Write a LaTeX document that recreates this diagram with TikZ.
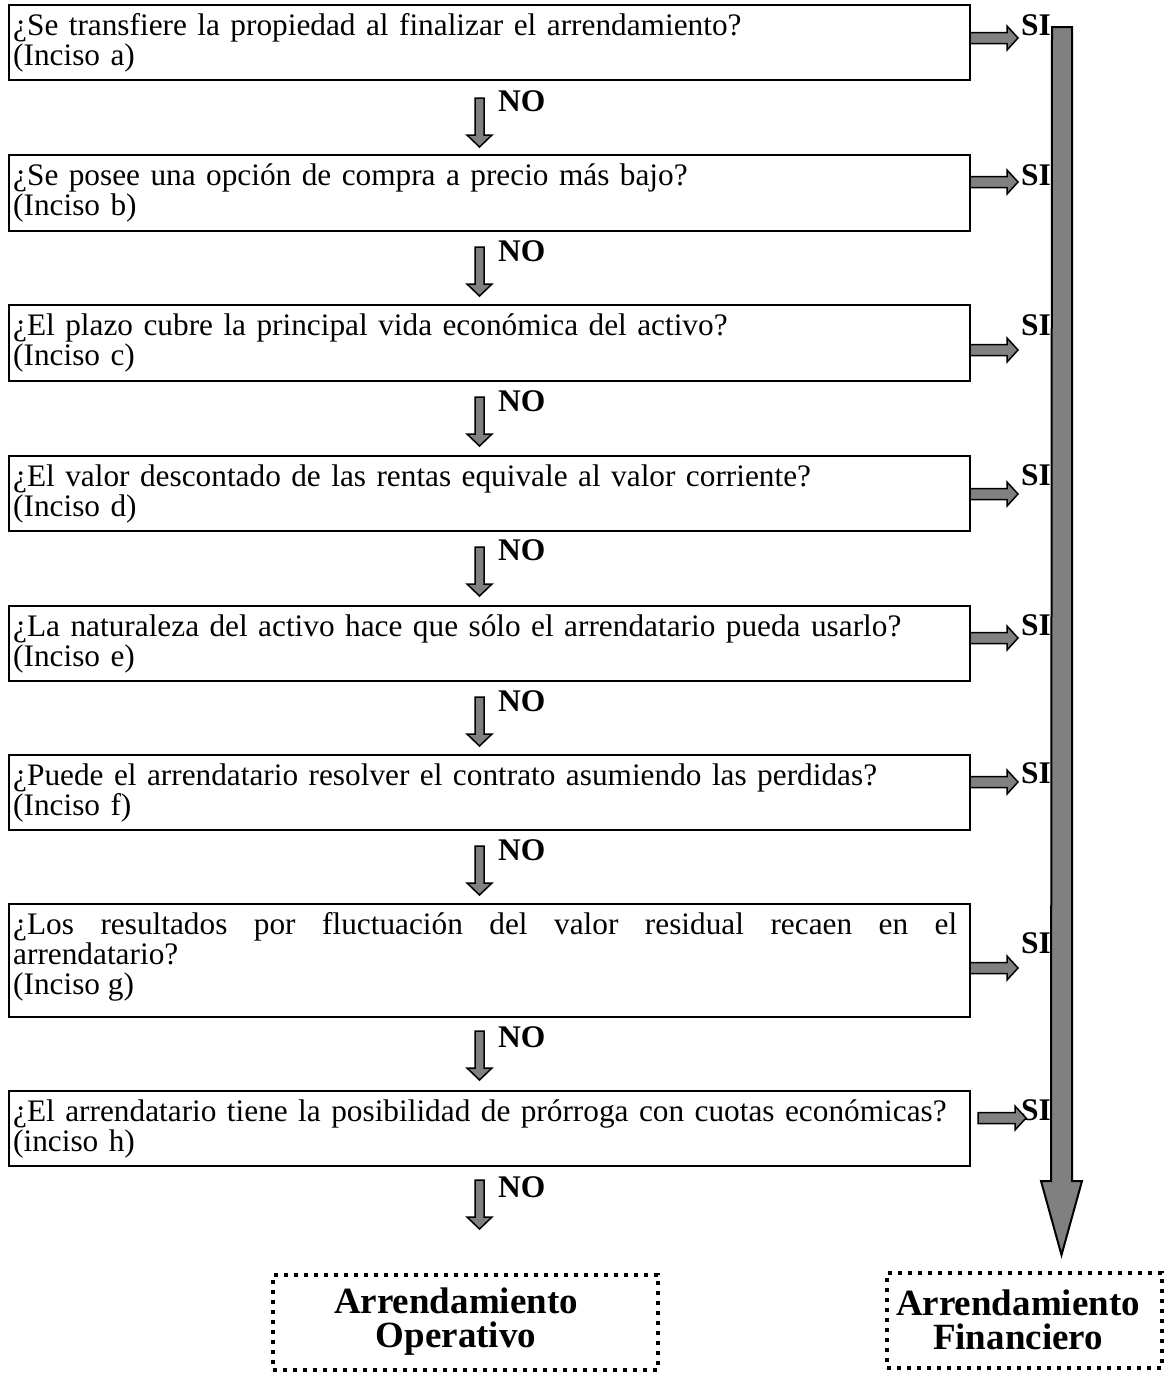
\documentclass[tikz,border=0pt]{standalone}
\usepackage{fontspec}
\setmainfont{Liberation Serif}
\usetikzlibrary{calc}
\definecolor{arrgray}{HTML}{808080}
\tikzset{
 qbox/.style={draw, line width=2, rectangle, anchor=north west, minimum width=961.5, inner sep=0, outer sep=0},
 qtext/.style={anchor=north west, inner sep=0, text width=1000, align=left, font=\fontsize{31.3}{30.2}\selectfont},
 yes/.style={anchor=base east, inner sep=0, font=\fontsize{31.5}{31}\selectfont\bfseries},
 no/.style={anchor=base west, inner sep=0, font=\fontsize{31.5}{31}\selectfont\bfseries},
 blk/.style={fill=arrgray, draw=black, line width=1.5, line join=miter},
 dotbox/.style={draw, line width=4, dash pattern=on 4 off 6, anchor=north west, inner sep=0, outer sep=0},
 restext/.style={font=\fontsize{37}{34}\selectfont\bfseries, align=center, inner sep=0},
 rarr/.pic={\path[blk] (0,-5.5) -- (37,-5.5) -- (37,-12) -- (48,0) -- (37,12) -- (37,5.5) -- (0,5.5) -- cycle;},
 darr/.pic={\path[blk] (-4.5,0) -- (4.5,0) -- (4.5,37) -- (12.5,37) -- (0,49) -- (-12.5,37) -- (-4.5,37) -- cycle;},
}
\newcommand{\fs}{\rule{0pt}{23pt}}
\begin{document}
\begin{tikzpicture}[x=1pt,y=-1pt]
\useasboundingbox (0,0) rectangle (1164,1374);

% big arrow to Arrendamiento Financiero
\coordinate (bigtop) at (1062,27);
\path[blk, line width=2] (bigtop) ++(-10,0) -- ++(20,0) -- ++(0,1154) -- ++(10,0) -- ++(-20.5,74) -- ++(-20.5,-74) -- ++(10,0) -- cycle;

% question boxes
\node[qbox, minimum height=75] (b1) at (8.5,5) {};
\node[qbox, minimum height=76] (b2) at (8.5,155) {};
\node[qbox, minimum height=76] (b3) at (8.5,305) {};
\node[qbox, minimum height=75] (b4) at (8.5,456) {};
\node[qbox, minimum height=75] (b5) at (8.5,606) {};
\node[qbox, minimum height=75] (b6) at (8.5,755) {};
\node[qbox, minimum height=113] (b7) at (8.5,904) {};
\node[qbox, minimum height=75] (b8) at (8.5,1091) {};

\node[qtext] (t1) at ($(b1.north west)+(4.5,7)$) {\fs¿Se transfiere la propiedad al finalizar el arrendamiento?\\(Inciso a)};
\node[qtext] (t2) at ($(b2.north west)+(4.5,7)$) {\fs¿Se posee una opción de compra a precio más bajo?\\(Inciso b)};
\node[qtext] (t3) at ($(b3.north west)+(4.5,7)$) {\fs¿El plazo cubre la principal vida económica del activo?\\(Inciso c)};
\node[qtext] (t4) at ($(b4.north west)+(4.5,7)$) {\fs¿El valor descontado de las rentas equivale al valor corriente?\\(Inciso d)};
\node[qtext] (t5) at ($(b5.north west)+(4.5,7)$) {\fs¿La naturaleza del activo hace que sólo el arrendatario pueda usarlo?\\(Inciso e)};
\node[qtext] (t6) at ($(b6.north west)+(4.5,7)$) {\fs¿Puede el arrendatario resolver el contrato asumiendo las perdidas?\\(Inciso f)};
\node[qtext, text width=944, align=justify] (t7) at ($(b7.north west)+(4.5,7)$) {\fs¿Los resultados por fluctuación del valor residual recaen en el\linebreak arrendatario?\\(Inciso g)};
\node[qtext] (t8) at ($(b8.north west)+(4.5,7)$) {\fs¿El arrendatario tiene la posibilidad de prórroga con cuotas económicas?\\(inciso h)};

% SI labels
\node[yes] (s1) at (1051,35) {SI};
\node[yes] (s2) at (1051,185) {SI};
\node[yes] (s3) at (1051,335) {SI};
\node[yes] (s4) at (1051,485) {SI};
\node[yes] (s5) at (1051,635) {SI};
\node[yes] (s6) at (1051,783) {SI};
\node[yes] (s7) at (1051,953) {SI};
\node[yes] (s8) at (1051,1120) {SI};

% right arrows
\pic at ($(b1.north east)+(0,33)$) {rarr};
\pic at ($(b2.north east)+(0,27)$) {rarr};
\pic at ($(b3.north east)+(0,45)$) {rarr};
\pic at ($(b4.north east)+(0,38)$) {rarr};
\pic at ($(b5.north east)+(0,32)$) {rarr};
\pic at ($(b6.north east)+(0,27)$) {rarr};
\pic at ($(b7.north east)+(0,64)$) {rarr};
\pic at ($(b8.north east)+(8,27)$) {rarr};

% NO arrows and labels
\pic at ($(b1.south west)+(471,18)$) {darr};
\pic at ($(b2.south west)+(471,16)$) {darr};
\pic at ($(b3.south west)+(471,16)$) {darr};
\pic at ($(b4.south west)+(471,16)$) {darr};
\pic at ($(b5.south west)+(471,16)$) {darr};
\pic at ($(b6.south west)+(471,16)$) {darr};
\pic at ($(b7.south west)+(471,14)$) {darr};
\pic at ($(b8.south west)+(471,14)$) {darr};
\node[no] (n1) at ($(b1.south west)+(489.5,31)$) {NO};
\node[no] (n2) at ($(b2.south west)+(489.5,30)$) {NO};
\node[no] (n3) at ($(b3.south west)+(489.5,30)$) {NO};
\node[no] (n4) at ($(b4.south west)+(489.5,29)$) {NO};
\node[no] (n5) at ($(b5.south west)+(489.5,30)$) {NO};
\node[no] (n6) at ($(b6.south west)+(489.5,30)$) {NO};
\node[no] (n7) at ($(b7.south west)+(489.5,30)$) {NO};
\node[no] (n8) at ($(b8.south west)+(489.5,31)$) {NO};

% result boxes
\node[dotbox, minimum width=385, minimum height=95] (op) at (273,1275) {};
\node[restext] (opt) at (456,1322) {Arrendamiento\\Operativo};
\node[dotbox, minimum width=275, minimum height=95] (fin) at (887,1273) {};
\node[restext] (fint) at (1018,1320) {Arrendamiento\\Financiero};
\end{tikzpicture}
\end{document}
